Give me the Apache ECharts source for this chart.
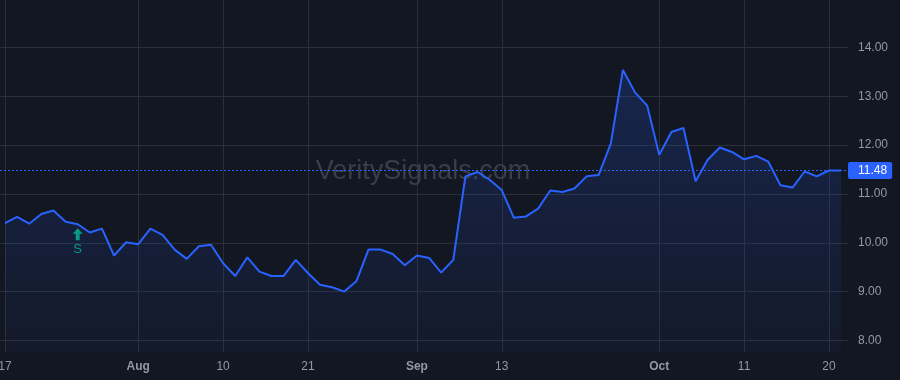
<!DOCTYPE html>
<html lang="en">

<head>
    <meta charset="UTF-8">
    <title>price</title>
    <script src="https://cdn.jsdelivr.net/npm/echarts@6/dist/echarts.min.js"></script>
    <style>
        body { margin: 0; background: #131722; }
    </style>
</head>

<body>
    <div id="main" style="width: 900px;height:380px;"></div>

    <script type="text/javascript">
        // trading days, Jul 17 - Oct 23 2023
        var dates = [
            '2023-07-17', '2023-07-18', '2023-07-19', '2023-07-20', '2023-07-21', '2023-07-24', '2023-07-25',
            '2023-07-26', '2023-07-27', '2023-07-28', '2023-07-31',
            '2023-08-01', '2023-08-02', '2023-08-03', '2023-08-04', '2023-08-07', '2023-08-08', '2023-08-09',
            '2023-08-10', '2023-08-11', '2023-08-14', '2023-08-15', '2023-08-16', '2023-08-17', '2023-08-18',
            '2023-08-21', '2023-08-22', '2023-08-23', '2023-08-24', '2023-08-25', '2023-08-28', '2023-08-29',
            '2023-08-30', '2023-08-31',
            '2023-09-01', '2023-09-05', '2023-09-06', '2023-09-07', '2023-09-08', '2023-09-11', '2023-09-12',
            '2023-09-13', '2023-09-14', '2023-09-15', '2023-09-18', '2023-09-19', '2023-09-20', '2023-09-21',
            '2023-09-22', '2023-09-25', '2023-09-26', '2023-09-27', '2023-09-28', '2023-09-29',
            '2023-10-02', '2023-10-03', '2023-10-04', '2023-10-05', '2023-10-06', '2023-10-09', '2023-10-10',
            '2023-10-11', '2023-10-12', '2023-10-13', '2023-10-16', '2023-10-17', '2023-10-18', '2023-10-19',
            '2023-10-20', '2023-10-23'
        ];
        var prices = [
            10.40, 10.53, 10.39, 10.59, 10.66, 10.43, 10.38, 10.21, 10.29, 9.74, 10.01,
            9.97, 10.29, 10.16, 9.86, 9.67, 9.93, 9.96, 9.58, 9.32, 9.70, 9.41, 9.32, 9.32, 9.65,
            9.38, 9.14, 9.09, 9.00, 9.21, 9.86, 9.86, 9.77, 9.54,
            9.74, 9.69, 9.39, 9.65, 11.36, 11.45, 11.29, 11.08, 10.51, 10.54, 10.70, 11.07, 11.04,
            11.11, 11.36, 11.39, 12.03, 13.54, 13.08, 12.81,
            11.80, 12.27, 12.35, 11.26, 11.70, 11.95, 11.86, 11.71, 11.78, 11.66, 11.18, 11.13, 11.46,
            11.36, 11.48, 11.48
        ];
        // x tick labels (months shown bold)
        var tickDates = ['2023-07-17', '2023-08-01', '2023-08-10', '2023-08-21', '2023-09-01',
            '2023-09-13', '2023-10-02', '2023-10-11', '2023-10-20'];
        var tickTexts = ['17', 'Aug', '10', '21', 'Sep', '13', 'Oct', '11', '20'];
        var yTicks = [8, 14]; // min / max of the labelled price scale
        var lastPrice = 11.48;
        var signalIndex = 6;
        var signalText = 'S';

        var font = '"Liberation Sans", Arial, sans-serif';
        var pxPerUnit = 48.83;
        var labTop = 47.45, labBottom = 380 - 47.45 - 6 * 48.83, dataBottom = 28;

        var tickMap = {};
        tickDates.forEach(function (d, i) { tickMap[d] = tickTexts[i]; });
        function isTick(i) { return tickMap[dates[i]] !== undefined; }

        var myChart = echarts.init(document.getElementById('main'));

        var option = {
            backgroundColor: '#131722',
            animation: false,
            textStyle: { fontFamily: font },
            grid: [
                { left: 0, right: 52, top: labTop, bottom: labBottom, outerBoundsMode: 'none' },
                { left: 5, right: 59, top: 0, bottom: dataBottom, outerBoundsMode: 'none' }
            ],
            graphic: [{
                type: 'text',
                x: 423, y: 172, z: 1,
                style: {
                    text: 'VeritySignals.com',
                    fill: '#3a3e49',
                    font: '27px ' + font,
                    textAlign: 'center',
                    textVerticalAlign: 'middle'
                }
            }],
            xAxis: [{
                type: 'category',
                gridIndex: 1,
                data: dates,
                boundaryGap: false,
                axisLine: { show: false },
                axisTick: { show: false },
                axisLabel: {
                    interval: function (i) { return isTick(i); },
                    margin: 9,
                    color: '#9598a1',
                    fontSize: 12,
                    formatter: function (v) {
                        var t = tickMap[v];
                        return /^[A-Z]/.test(t) ? '{m|' + t + '}' : t;
                    },
                    rich: { m: { fontWeight: 'bold', color: '#9598a1', fontSize: 12, fontFamily: font } }
                },
                splitLine: {
                    show: true,
                    interval: function (i) { return isTick(i); },
                    lineStyle: { color: '#2a2e39', width: 1 }
                }
            }, {
                type: 'value',
                gridIndex: 0,
                min: 0, max: 1,
                show: false
            }],
            yAxis: [{
                type: 'value',
                gridIndex: 0,
                position: 'right',
                min: yTicks[0], max: yTicks[1], interval: 1,
                axisLine: { show: false },
                axisTick: { show: false },
                axisLabel: {
                    margin: 10,
                    color: '#9598a1',
                    fontSize: 12,
                    formatter: function (v) { return v.toFixed(2); }
                },
                splitLine: { lineStyle: { color: '#2a2e39', width: 1 } }
            }, {
                type: 'value',
                gridIndex: 1,
                min: yTicks[0] - (labBottom - dataBottom) / pxPerUnit,
                max: yTicks[1] + labTop / pxPerUnit,
                show: false
            }],
            series: [{
                type: 'line',
                xAxisIndex: 0,
                yAxisIndex: 1,
                data: prices,
                symbol: 'none',
                z: 3,
                lineStyle: { color: '#2962ff', width: 2 },
                areaStyle: {
                    color: new echarts.graphic.LinearGradient(0, 0, 0, 1, [
                        { offset: 0, color: 'rgba(41,98,255,0.28)' },
                        { offset: 1, color: 'rgba(41,98,255,0.05)' }
                    ])
                },
                markPoint: {
                    silent: true,
                    symbol: 'path://M5,0 L10,5 L7,5 L7,11 L3,11 L3,5 L0,5 Z',
                    symbolSize: [10, 12],
                    symbolOffset: [0, 10],
                    itemStyle: { color: '#089981' },
                    label: {
                        show: true,
                        position: 'bottom',
                        distance: 3,
                        color: '#089981',
                        fontSize: 13,
                        formatter: signalText
                    },
                    data: [{ coord: [signalIndex, prices[signalIndex]] }]
                }
            }, {
                type: 'line',
                xAxisIndex: 1,
                yAxisIndex: 0,
                data: [[0, lastPrice]],
                symbol: 'none',
                lineStyle: { opacity: 0 },
                markLine: {
                    silent: true,
                    symbol: ['none', 'none'],
                    lineStyle: { color: '#2962ff', type: [2, 2], width: 1 },
                    label: {
                        show: true,
                        position: 'end',
                        distance: 0,
                        formatter: lastPrice.toFixed(2),
                        color: '#ffffff',
                        fontSize: 12,
                        fontFamily: font,
                        backgroundColor: '#2962ff',
                        padding: [3, 5, 2, 10],
                        borderRadius: 2
                    },
                    data: [{ yAxis: lastPrice }]
                }
            }]
        };

        myChart.setOption(option);
    </script>
</body>

</html>
